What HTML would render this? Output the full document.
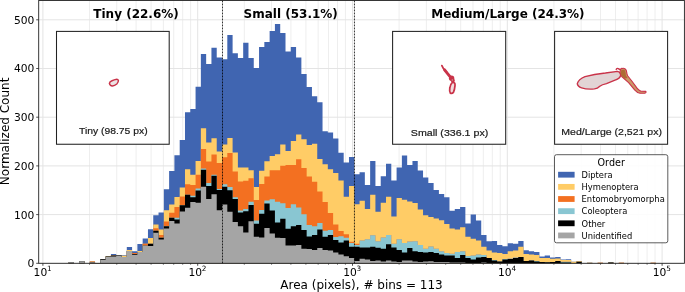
<!DOCTYPE html>
<html><head><meta charset="utf-8"><title>Area histogram</title>
<style>html,body{margin:0;padding:0;background:#fff}body{width:685px;height:292px;overflow:hidden}</style>
</head><body>
<svg width="685" height="292" viewBox="0 0 685 292" style="display:block;will-change:transform">
<rect x="0" y="0" width="685" height="292" fill="#fff"/>
<path d="M89.50,0.5V263.3M116.76,0.5V263.3M136.10,0.5V263.3M151.10,0.5V263.3M163.36,0.5V263.3M173.72,0.5V263.3M182.70,0.5V263.3M190.62,0.5V263.3M244.30,0.5V263.3M271.56,0.5V263.3M290.90,0.5V263.3M305.90,0.5V263.3M318.16,0.5V263.3M328.52,0.5V263.3M337.50,0.5V263.3M345.42,0.5V263.3M399.10,0.5V263.3M426.36,0.5V263.3M445.70,0.5V263.3M460.70,0.5V263.3M472.96,0.5V263.3M483.32,0.5V263.3M492.30,0.5V263.3M500.22,0.5V263.3M553.90,0.5V263.3M581.16,0.5V263.3M600.50,0.5V263.3M615.50,0.5V263.3M627.76,0.5V263.3M638.12,0.5V263.3M647.10,0.5V263.3M655.02,0.5V263.3" stroke="#eeeeee" stroke-width="1" fill="none"/>
<path d="M42.90,0.5V263.3M197.70,0.5V263.3M352.50,0.5V263.3M507.30,0.5V263.3M662.10,0.5V263.3M38.7,263.30H684.4M38.7,214.60H684.4M38.7,165.90H684.4M38.7,117.20H684.4M38.7,68.50H684.4M38.7,19.80H684.4" stroke="#e4e4e4" stroke-width="1" fill="none"/>
<path d="M58.03,263.3L58.03,263.30L63.32,263.30L63.32,263.30L68.61,263.30L68.61,262.30L73.90,262.30L73.90,263.30L79.19,263.30L79.19,261.20L84.48,261.20L84.48,263.30L89.77,263.30L89.77,261.50L95.06,261.50L95.06,262.90L100.35,262.90L100.35,259.00L105.64,259.00L105.64,255.90L110.93,255.90L110.93,254.10L116.22,254.10L116.22,255.00L121.51,255.00L121.51,255.20L126.80,255.20L126.80,247.10L132.09,247.10L132.09,251.20L137.38,251.20L137.38,244.10L142.67,244.10L142.67,238.60L147.96,238.60L147.96,229.30L153.25,229.30L153.25,215.20L158.54,215.20L158.54,212.50L163.83,212.50L163.83,189.30L169.12,189.30L169.12,171.10L174.41,171.10L174.41,155.20L179.70,155.20L179.70,140.10L184.99,140.10L184.99,112.20L190.28,112.20L190.28,109.10L195.57,109.10L195.57,86.80L200.86,86.80L200.86,53.90L206.15,53.90L206.15,64.10L211.44,64.10L211.44,47.80L216.73,47.80L216.73,57.40L222.02,57.40L222.02,59.30L227.31,59.30L227.31,34.90L232.60,34.90L232.60,53.20L237.89,53.20L237.89,58.00L243.18,58.00L243.18,42.70L248.47,42.70L248.47,58.00L253.76,58.00L253.76,68.00L259.05,68.00L259.05,46.90L264.34,46.90L264.34,41.90L269.63,41.90L269.63,30.90L274.92,30.90L274.92,24.00L280.21,24.00L280.21,33.10L285.50,33.10L285.50,51.60L290.79,51.60L290.79,47.10L296.08,47.10L296.08,57.50L301.37,57.50L301.37,74.00L306.66,74.00L306.66,87.00L311.95,87.00L311.95,96.30L317.24,96.30L317.24,102.20L322.53,102.20L322.53,131.30L327.82,131.30L327.82,132.40L333.11,132.40L333.11,138.40L338.40,138.40L338.40,152.80L343.69,152.80L343.69,162.50L348.98,162.50L348.98,157.00L354.27,157.00L354.27,174.20L359.56,174.20L359.56,172.30L364.85,172.30L364.85,185.10L370.14,185.10L370.14,161.00L375.43,161.00L375.43,186.10L380.72,186.10L380.72,176.30L386.01,176.30L386.01,163.80L391.30,163.80L391.30,180.50L396.59,180.50L396.59,167.50L401.88,167.50L401.88,155.50L407.17,155.50L407.17,165.00L412.46,165.00L412.46,161.00L417.75,161.00L417.75,170.50L423.04,170.50L423.04,177.50L428.33,177.50L428.33,183.00L433.62,183.00L433.62,190.00L438.91,190.00L438.91,193.90L444.20,193.90L444.20,197.30L449.49,197.30L449.49,210.80L454.78,210.80L454.78,208.90L460.07,208.90L460.07,207.10L465.36,207.10L465.36,223.40L470.65,223.40L470.65,214.60L475.94,214.60L475.94,220.60L481.23,220.60L481.23,234.90L486.52,234.90L486.52,241.20L491.81,241.20L491.81,240.90L497.10,240.90L497.10,244.90L502.39,244.90L502.39,246.20L507.68,246.20L507.68,243.30L512.97,243.30L512.97,243.70L518.26,243.70L518.26,240.90L523.55,240.90L523.55,250.30L528.84,250.30L528.84,251.20L534.13,251.20L534.13,252.10L539.42,252.10L539.42,256.60L544.71,256.60L544.71,255.40L550.00,255.40L550.00,257.40L555.29,257.40L555.29,257.10L560.58,257.10L560.58,259.60L565.87,259.60L565.87,259.30L571.16,259.30L571.16,261.70L576.45,261.70L576.45,260.90L581.74,260.90L581.74,263.30L587.03,263.30L587.03,262.65L592.32,262.65L592.32,263.30L597.61,263.30L597.61,262.80L602.90,262.80L602.90,263.30L608.19,263.30L608.19,262.60L613.48,262.60L613.48,263.30L618.77,263.30L618.77,262.80L624.06,262.80L624.06,263.30L629.35,263.30L629.35,263.30L634.64,263.30L634.64,263.30L639.93,263.30L639.93,263.30L645.22,263.30L645.22,263.30L650.51,263.30L650.51,262.75L655.80,262.75L655.80,263.30L661.09,263.30L661.09,263.3Z" fill="#4065B1"/>
<path d="M58.03,263.3L58.03,263.30L63.32,263.30L63.32,263.30L68.61,263.30L68.61,262.30L73.90,262.30L73.90,263.30L79.19,263.30L79.19,261.20L84.48,261.20L84.48,263.30L89.77,263.30L89.77,261.50L95.06,261.50L95.06,262.90L100.35,262.90L100.35,259.00L105.64,259.00L105.64,255.90L110.93,255.90L110.93,255.00L116.22,255.00L116.22,255.00L121.51,255.00L121.51,255.70L126.80,255.70L126.80,249.90L132.09,249.90L132.09,252.90L137.38,252.90L137.38,250.90L142.67,250.90L142.67,243.80L147.96,243.80L147.96,238.00L153.25,238.00L153.25,224.40L158.54,224.40L158.54,229.50L163.83,229.50L163.83,210.20L169.12,210.20L169.12,204.60L174.41,204.60L174.41,197.00L179.70,197.00L179.70,187.40L184.99,187.40L184.99,169.20L190.28,169.20L190.28,174.80L195.57,174.80L195.57,161.00L200.86,161.00L200.86,128.20L206.15,128.20L206.15,142.60L211.44,142.60L211.44,138.20L216.73,138.20L216.73,151.40L222.02,151.40L222.02,144.50L227.31,144.50L227.31,137.90L232.60,137.90L232.60,152.40L237.89,152.40L237.89,167.60L243.18,167.60L243.18,167.60L248.47,167.60L248.47,170.20L253.76,170.20L253.76,187.10L259.05,187.10L259.05,170.80L264.34,170.80L264.34,161.20L269.63,161.20L269.63,156.10L274.92,156.10L274.92,154.20L280.21,154.20L280.21,144.60L285.50,144.60L285.50,151.10L290.79,151.10L290.79,141.10L296.08,141.10L296.08,134.50L301.37,134.50L301.37,139.20L306.66,139.20L306.66,144.90L311.95,144.90L311.95,143.80L317.24,143.80L317.24,159.10L322.53,159.10L322.53,164.20L327.82,164.20L327.82,169.20L333.11,169.20L333.11,172.90L338.40,172.90L338.40,180.50L343.69,180.50L343.69,196.80L348.98,196.80L348.98,186.10L354.27,186.10L354.27,204.30L359.56,204.30L359.56,200.80L364.85,200.80L364.85,208.90L370.14,208.90L370.14,194.80L375.43,194.80L375.43,211.80L380.72,211.80L380.72,202.70L386.01,202.70L386.01,196.80L391.30,196.80L391.30,216.50L396.59,216.50L396.59,198.00L401.88,198.00L401.88,199.80L407.17,199.80L407.17,201.40L412.46,201.40L412.46,203.00L417.75,203.00L417.75,209.60L423.04,209.60L423.04,215.20L428.33,215.20L428.33,216.90L433.62,216.90L433.62,218.40L438.91,218.40L438.91,220.20L444.20,220.20L444.20,224.00L449.49,224.00L449.49,228.60L454.78,228.60L454.78,229.50L460.07,229.50L460.07,227.20L465.36,227.20L465.36,236.80L470.65,236.80L470.65,238.70L475.94,238.70L475.94,240.60L481.23,240.60L481.23,246.80L486.52,246.80L486.52,250.60L491.81,250.60L491.81,252.50L497.10,252.50L497.10,253.10L502.39,253.10L502.39,254.10L507.68,254.10L507.68,251.20L512.97,251.20L512.97,250.60L518.26,250.60L518.26,246.80L523.55,246.80L523.55,254.10L528.84,254.10L528.84,254.40L534.13,254.40L534.13,255.00L539.42,255.00L539.42,258.10L544.71,258.10L544.71,257.90L550.00,257.90L550.00,258.80L555.29,258.80L555.29,258.60L560.58,258.60L560.58,260.10L565.87,260.10L565.87,260.10L571.16,260.10L571.16,261.70L576.45,261.70L576.45,260.90L581.74,260.90L581.74,263.30L587.03,263.30L587.03,262.65L592.32,262.65L592.32,263.30L597.61,263.30L597.61,262.80L602.90,262.80L602.90,263.30L608.19,263.30L608.19,262.60L613.48,262.60L613.48,263.30L618.77,263.30L618.77,262.80L624.06,262.80L624.06,263.30L629.35,263.30L629.35,263.30L634.64,263.30L634.64,263.30L639.93,263.30L639.93,263.30L645.22,263.30L645.22,263.30L650.51,263.30L650.51,262.75L655.80,262.75L655.80,263.30L661.09,263.30L661.09,263.3Z" fill="#FFCC66"/>
<path d="M58.03,263.3L58.03,263.30L63.32,263.30L63.32,263.30L68.61,263.30L68.61,262.30L73.90,262.30L73.90,263.30L79.19,263.30L79.19,261.20L84.48,261.20L84.48,263.30L89.77,263.30L89.77,261.50L95.06,261.50L95.06,262.90L100.35,262.90L100.35,259.00L105.64,259.00L105.64,256.40L110.93,256.40L110.93,255.00L116.22,255.00L116.22,255.00L121.51,255.00L121.51,256.90L126.80,256.90L126.80,251.00L132.09,251.00L132.09,252.90L137.38,252.90L137.38,252.10L142.67,252.10L142.67,243.80L147.96,243.80L147.96,243.70L153.25,243.70L153.25,228.30L158.54,228.30L158.54,234.90L163.83,234.90L163.83,221.50L169.12,221.50L169.12,212.70L174.41,212.70L174.41,207.10L179.70,207.10L179.70,196.40L184.99,196.40L184.99,184.20L190.28,184.20L190.28,184.90L195.57,184.90L195.57,174.80L200.86,174.80L200.86,148.90L206.15,148.90L206.15,161.60L211.44,161.60L211.44,154.50L216.73,154.50L216.73,162.90L222.02,162.90L222.02,157.30L227.31,157.30L227.31,153.00L232.60,153.00L232.60,171.40L237.89,171.40L237.89,181.50L243.18,181.50L243.18,180.80L248.47,180.80L248.47,178.30L253.76,178.30L253.76,199.90L259.05,199.90L259.05,184.00L264.34,184.00L264.34,176.40L269.63,176.40L269.63,170.20L274.92,170.20L274.92,170.20L280.21,170.20L280.21,165.80L285.50,165.80L285.50,165.10L290.79,165.10L290.79,165.10L296.08,165.10L296.08,159.30L301.37,159.30L301.37,168.00L306.66,168.00L306.66,176.50L311.95,176.50L311.95,181.70L317.24,181.70L317.24,191.40L322.53,191.40L322.53,202.00L327.82,202.00L327.82,213.10L333.11,213.10L333.11,224.60L338.40,224.60L338.40,231.10L343.69,231.10L343.69,234.30L348.98,234.30L348.98,241.80L354.27,241.80L354.27,243.70L359.56,243.70L359.56,240.60L364.85,240.60L364.85,239.30L370.14,239.30L370.14,235.30L375.43,235.30L375.43,241.20L380.72,241.20L380.72,237.40L386.01,237.40L386.01,234.90L391.30,234.90L391.30,243.70L396.59,243.70L396.59,239.30L401.88,239.30L401.88,243.10L407.17,243.10L407.17,241.60L412.46,241.60L412.46,241.20L417.75,241.20L417.75,244.90L423.04,244.90L423.04,248.70L428.33,248.70L428.33,246.60L433.62,246.60L433.62,248.70L438.91,248.70L438.91,251.20L444.20,251.20L444.20,252.90L449.49,252.90L449.49,253.70L454.78,253.70L454.78,251.90L460.07,251.90L460.07,251.20L465.36,251.20L465.36,255.90L470.65,255.90L470.65,255.60L475.94,255.60L475.94,254.40L481.23,254.40L481.23,255.00L486.52,255.00L486.52,258.10L491.81,258.10L491.81,260.00L497.10,260.00L497.10,261.60L502.39,261.60L502.39,259.10L507.68,259.10L507.68,258.50L512.97,258.50L512.97,257.50L518.26,257.50L518.26,257.10L523.55,257.10L523.55,260.90L528.84,260.90L528.84,260.40L534.13,260.40L534.13,260.90L539.42,260.90L539.42,262.10L544.71,262.10L544.71,262.30L550.00,262.30L550.00,261.90L555.29,261.90L555.29,260.90L560.58,260.90L560.58,261.70L565.87,261.70L565.87,261.70L571.16,261.70L571.16,263.30L576.45,263.30L576.45,261.70L581.74,261.70L581.74,263.30L587.03,263.30L587.03,262.65L592.32,262.65L592.32,263.30L597.61,263.30L597.61,262.80L602.90,262.80L602.90,263.30L608.19,263.30L608.19,262.60L613.48,262.60L613.48,263.30L618.77,263.30L618.77,262.80L624.06,262.80L624.06,263.30L629.35,263.30L629.35,263.30L634.64,263.30L634.64,263.30L639.93,263.30L639.93,263.30L645.22,263.30L645.22,263.30L650.51,263.30L650.51,262.75L655.80,262.75L655.80,263.30L661.09,263.30L661.09,263.3Z" fill="#F37021"/>
<path d="M58.03,263.3L58.03,263.30L63.32,263.30L63.32,263.30L68.61,263.30L68.61,262.30L73.90,262.30L73.90,263.30L79.19,263.30L79.19,261.20L84.48,261.20L84.48,263.30L89.77,263.30L89.77,262.40L95.06,262.40L95.06,262.90L100.35,262.90L100.35,259.00L105.64,259.00L105.64,256.40L110.93,256.40L110.93,255.50L116.22,255.50L116.22,255.00L121.51,255.00L121.51,256.90L126.80,256.90L126.80,251.00L132.09,251.00L132.09,254.00L137.38,254.00L137.38,252.10L142.67,252.10L142.67,245.80L147.96,245.80L147.96,243.70L153.25,243.70L153.25,230.80L158.54,230.80L158.54,237.80L163.83,237.80L163.83,226.20L169.12,226.20L169.12,217.70L174.41,217.70L174.41,217.70L179.70,217.70L179.70,205.20L184.99,205.20L184.99,194.80L190.28,194.80L190.28,195.80L195.57,195.80L195.57,188.60L200.86,188.60L200.86,168.60L206.15,168.60L206.15,183.00L211.44,183.00L211.44,174.80L216.73,174.80L216.73,188.90L222.02,188.90L222.02,184.20L227.31,184.20L227.31,187.10L232.60,187.10L232.60,197.20L237.89,197.20L237.89,210.60L243.18,210.60L243.18,209.00L248.47,209.00L248.47,201.80L253.76,201.80L253.76,220.60L259.05,220.60L259.05,209.90L264.34,209.90L264.34,200.50L269.63,200.50L269.63,199.30L274.92,199.30L274.92,201.80L280.21,201.80L280.21,203.30L285.50,203.30L285.50,208.00L290.79,208.00L290.79,204.30L296.08,204.30L296.08,207.40L301.37,207.40L301.37,214.30L306.66,214.30L306.66,225.10L311.95,225.10L311.95,226.20L317.24,226.20L317.24,223.10L322.53,223.10L322.53,230.80L327.82,230.80L327.82,229.90L333.11,229.90L333.11,237.00L338.40,237.00L338.40,236.20L343.69,236.20L343.69,237.80L348.98,237.80L348.98,243.10L354.27,243.10L354.27,244.90L359.56,244.90L359.56,240.60L364.85,240.60L364.85,239.30L370.14,239.30L370.14,235.30L375.43,235.30L375.43,241.20L380.72,241.20L380.72,237.40L386.01,237.40L386.01,234.90L391.30,234.90L391.30,243.70L396.59,243.70L396.59,239.30L401.88,239.30L401.88,243.10L407.17,243.10L407.17,241.60L412.46,241.60L412.46,241.20L417.75,241.20L417.75,244.90L423.04,244.90L423.04,248.70L428.33,248.70L428.33,246.60L433.62,246.60L433.62,248.70L438.91,248.70L438.91,251.20L444.20,251.20L444.20,252.90L449.49,252.90L449.49,253.70L454.78,253.70L454.78,251.90L460.07,251.90L460.07,251.20L465.36,251.20L465.36,255.90L470.65,255.90L470.65,255.60L475.94,255.60L475.94,254.40L481.23,254.40L481.23,255.00L486.52,255.00L486.52,258.10L491.81,258.10L491.81,260.00L497.10,260.00L497.10,261.60L502.39,261.60L502.39,259.10L507.68,259.10L507.68,258.50L512.97,258.50L512.97,257.50L518.26,257.50L518.26,257.10L523.55,257.10L523.55,260.90L528.84,260.90L528.84,260.40L534.13,260.40L534.13,260.90L539.42,260.90L539.42,262.10L544.71,262.10L544.71,262.30L550.00,262.30L550.00,261.90L555.29,261.90L555.29,260.90L560.58,260.90L560.58,261.70L565.87,261.70L565.87,261.70L571.16,261.70L571.16,263.30L576.45,263.30L576.45,261.70L581.74,261.70L581.74,263.30L587.03,263.30L587.03,262.65L592.32,262.65L592.32,263.30L597.61,263.30L597.61,263.30L602.90,263.30L602.90,263.30L608.19,263.30L608.19,262.60L613.48,262.60L613.48,263.30L618.77,263.30L618.77,263.30L624.06,263.30L624.06,263.30L629.35,263.30L629.35,263.30L634.64,263.30L634.64,263.30L639.93,263.30L639.93,263.30L645.22,263.30L645.22,263.30L650.51,263.30L650.51,263.30L655.80,263.30L655.80,263.30L661.09,263.30L661.09,263.3Z" fill="#89C6D2"/>
<path d="M58.03,263.3L58.03,263.30L63.32,263.30L63.32,263.30L68.61,263.30L68.61,262.30L73.90,262.30L73.90,263.30L79.19,263.30L79.19,261.20L84.48,261.20L84.48,263.30L89.77,263.30L89.77,262.40L95.06,262.40L95.06,262.90L100.35,262.90L100.35,259.00L105.64,259.00L105.64,256.40L110.93,256.40L110.93,255.50L116.22,255.50L116.22,255.00L121.51,255.00L121.51,256.90L126.80,256.90L126.80,251.00L132.09,251.00L132.09,254.00L137.38,254.00L137.38,252.10L142.67,252.10L142.67,245.80L147.96,245.80L147.96,243.70L153.25,243.70L153.25,230.80L158.54,230.80L158.54,237.80L163.83,237.80L163.83,226.20L169.12,226.20L169.12,217.70L174.41,217.70L174.41,219.60L179.70,219.60L179.70,205.20L184.99,205.20L184.99,194.80L190.28,194.80L190.28,197.30L195.57,197.30L195.57,190.50L200.86,190.50L200.86,169.80L206.15,169.80L206.15,186.10L211.44,186.10L211.44,175.80L216.73,175.80L216.73,190.10L222.02,190.10L222.02,186.80L227.31,186.80L227.31,190.20L232.60,190.20L232.60,199.00L237.89,199.00L237.89,212.40L243.18,212.40L243.18,211.20L248.47,211.20L248.47,204.90L253.76,204.90L253.76,223.70L259.05,223.70L259.05,213.70L264.34,213.70L264.34,203.60L269.63,203.60L269.63,210.60L274.92,210.60L274.92,222.50L280.21,222.50L280.21,218.70L285.50,218.70L285.50,228.70L290.79,228.70L290.79,226.20L296.08,226.20L296.08,225.00L301.37,225.00L301.37,230.00L306.66,230.00L306.66,236.40L311.95,236.40L311.95,234.90L317.24,234.90L317.24,229.50L322.53,229.50L322.53,236.80L327.82,236.80L327.82,234.90L333.11,234.90L333.11,239.90L338.40,239.90L338.40,242.40L343.69,242.40L343.69,240.60L348.98,240.60L348.98,246.80L354.27,246.80L354.27,246.80L359.56,246.80L359.56,247.50L364.85,247.50L364.85,247.50L370.14,247.50L370.14,246.80L375.43,246.80L375.43,247.80L380.72,247.80L380.72,248.70L386.01,248.70L386.01,244.30L391.30,244.30L391.30,247.50L396.59,247.50L396.59,250.00L401.88,250.00L401.88,252.50L407.17,252.50L407.17,248.10L412.46,248.10L412.46,251.20L417.75,251.20L417.75,251.90L423.04,251.90L423.04,252.50L428.33,252.50L428.33,252.10L433.62,252.10L433.62,253.10L438.91,253.10L438.91,254.40L444.20,254.40L444.20,255.40L449.49,255.40L449.49,255.60L454.78,255.60L454.78,258.10L460.07,258.10L460.07,255.00L465.36,255.00L465.36,258.10L470.65,258.10L470.65,259.40L475.94,259.40L475.94,257.50L481.23,257.50L481.23,257.10L486.52,257.10L486.52,258.10L491.81,258.10L491.81,260.60L497.10,260.60L497.10,261.60L502.39,261.60L502.39,259.60L507.68,259.60L507.68,259.10L512.97,259.10L512.97,258.10L518.26,258.10L518.26,257.10L523.55,257.10L523.55,260.90L528.84,260.90L528.84,260.40L534.13,260.40L534.13,261.60L539.42,261.60L539.42,262.10L544.71,262.10L544.71,262.30L550.00,262.30L550.00,261.90L555.29,261.90L555.29,260.90L560.58,260.90L560.58,262.50L565.87,262.50L565.87,262.50L571.16,262.50L571.16,263.30L576.45,263.30L576.45,261.70L581.74,261.70L581.74,263.30L587.03,263.30L587.03,263.30L592.32,263.30L592.32,263.30L597.61,263.30L597.61,263.30L602.90,263.30L602.90,263.30L608.19,263.30L608.19,262.60L613.48,262.60L613.48,263.30L618.77,263.30L618.77,263.30L624.06,263.30L624.06,263.30L629.35,263.30L629.35,263.30L634.64,263.30L634.64,263.30L639.93,263.30L639.93,263.30L645.22,263.30L645.22,263.30L650.51,263.30L650.51,263.30L655.80,263.30L655.80,263.30L661.09,263.30L661.09,263.3Z" fill="#000000"/>
<path d="M58.03,263.3L58.03,263.30L63.32,263.30L63.32,263.30L68.61,263.30L68.61,262.30L73.90,262.30L73.90,263.30L79.19,263.30L79.19,261.20L84.48,261.20L84.48,263.30L89.77,263.30L89.77,262.40L95.06,262.40L95.06,262.90L100.35,262.90L100.35,259.80L105.64,259.80L105.64,257.10L110.93,257.10L110.93,256.60L116.22,256.60L116.22,255.60L121.51,255.60L121.51,256.90L126.80,256.90L126.80,251.00L132.09,251.00L132.09,254.70L137.38,254.70L137.38,252.10L142.67,252.10L142.67,245.80L147.96,245.80L147.96,246.00L153.25,246.00L153.25,232.80L158.54,232.80L158.54,239.60L163.83,239.60L163.83,228.50L169.12,228.50L169.12,220.90L174.41,220.90L174.41,223.40L179.70,223.40L179.70,211.50L184.99,211.50L184.99,207.70L190.28,207.70L190.28,202.00L195.57,202.00L195.57,202.70L200.86,202.70L200.86,186.80L206.15,186.80L206.15,198.90L211.44,198.90L211.44,194.30L216.73,194.30L216.73,210.20L222.02,210.20L222.02,204.60L227.31,204.60L227.31,211.80L232.60,211.80L232.60,221.90L237.89,221.90L237.89,226.20L243.18,226.20L243.18,232.50L248.47,232.50L248.47,221.20L253.76,221.20L253.76,236.80L259.05,236.80L259.05,237.40L264.34,237.40L264.34,228.10L269.63,228.10L269.63,233.60L274.92,233.60L274.92,237.80L280.21,237.80L280.21,238.00L285.50,238.00L285.50,245.60L290.79,245.60L290.79,245.60L296.08,245.60L296.08,244.90L301.37,244.90L301.37,248.70L306.66,248.70L306.66,249.00L311.95,249.00L311.95,250.00L317.24,250.00L317.24,248.10L322.53,248.10L322.53,250.00L327.82,250.00L327.82,250.60L333.11,250.60L333.11,252.50L338.40,252.50L338.40,254.40L343.69,254.40L343.69,256.20L348.98,256.20L348.98,258.10L354.27,258.10L354.27,260.90L359.56,260.90L359.56,258.80L364.85,258.80L364.85,259.40L370.14,259.40L370.14,260.90L375.43,260.90L375.43,260.60L380.72,260.60L380.72,261.60L386.01,261.60L386.01,260.40L391.30,260.40L391.30,261.60L396.59,261.60L396.59,261.90L401.88,261.90L401.88,260.40L407.17,260.40L407.17,260.60L412.46,260.60L412.46,261.60L417.75,261.60L417.75,262.10L423.04,262.10L423.04,261.60L428.33,261.60L428.33,261.30L433.62,261.30L433.62,262.10L438.91,262.10L438.91,262.10L444.20,262.10L444.20,261.90L449.49,261.90L449.49,262.50L454.78,262.50L454.78,262.50L460.07,262.50L460.07,262.50L465.36,262.50L465.36,262.90L470.65,262.90L470.65,262.90L475.94,262.90L475.94,262.90L481.23,262.90L481.23,262.50L486.52,262.50L486.52,262.90L491.81,262.90L491.81,263.00L497.10,263.00L497.10,263.00L502.39,263.00L502.39,262.90L507.68,262.90L507.68,262.90L512.97,262.90L512.97,262.90L518.26,262.90L518.26,262.90L523.55,262.90L523.55,263.00L528.84,263.00L528.84,263.00L534.13,263.00L534.13,263.00L539.42,263.00L539.42,263.00L544.71,263.00L544.71,263.00L550.00,263.00L550.00,263.00L555.29,263.00L555.29,263.00L560.58,263.00L560.58,263.30L565.87,263.30L565.87,263.30L571.16,263.30L571.16,263.30L576.45,263.30L576.45,263.30L581.74,263.30L581.74,263.30L587.03,263.30L587.03,263.30L592.32,263.30L592.32,263.30L597.61,263.30L597.61,263.30L602.90,263.30L602.90,263.30L608.19,263.30L608.19,263.30L613.48,263.30L613.48,263.30L618.77,263.30L618.77,263.30L624.06,263.30L624.06,263.30L629.35,263.30L629.35,263.30L634.64,263.30L634.64,263.30L639.93,263.30L639.93,263.30L645.22,263.30L645.22,263.30L650.51,263.30L650.51,263.30L655.80,263.30L655.80,263.30L661.09,263.30L661.09,263.3Z" fill="#A5A5A5"/>
<path d="M222.50,0.5V263.3" stroke="#000" stroke-width="0.8" stroke-dasharray="1.9,1.1" fill="none"/>
<path d="M354.45,0.5V263.3" stroke="#000" stroke-width="0.8" stroke-dasharray="1.9,1.1" fill="none"/>
<rect x="38.7" y="0.5" width="645.70" height="262.80" fill="none" stroke="#222" stroke-width="0.9"/>
<path d="M42.90,263.3v2.5M197.70,263.3v2.5M352.50,263.3v2.5M507.30,263.3v2.5M662.10,263.3v2.5" stroke="#222" stroke-width="0.8" fill="none"/>
<path d="M89.50,263.3v1.5M116.76,263.3v1.5M136.10,263.3v1.5M151.10,263.3v1.5M163.36,263.3v1.5M173.72,263.3v1.5M182.70,263.3v1.5M190.62,263.3v1.5M244.30,263.3v1.5M271.56,263.3v1.5M290.90,263.3v1.5M305.90,263.3v1.5M318.16,263.3v1.5M328.52,263.3v1.5M337.50,263.3v1.5M345.42,263.3v1.5M399.10,263.3v1.5M426.36,263.3v1.5M445.70,263.3v1.5M460.70,263.3v1.5M472.96,263.3v1.5M483.32,263.3v1.5M492.30,263.3v1.5M500.22,263.3v1.5M553.90,263.3v1.5M581.16,263.3v1.5M600.50,263.3v1.5M615.50,263.3v1.5M627.76,263.3v1.5M638.12,263.3v1.5M647.10,263.3v1.5M655.02,263.3v1.5" stroke="#222" stroke-width="0.6" fill="none"/>
<path d="M38.7,263.30h-2.5M38.7,214.60h-2.5M38.7,165.90h-2.5M38.7,117.20h-2.5M38.7,68.50h-2.5M38.7,19.80h-2.5" stroke="#222" stroke-width="0.8" fill="none"/>
<text x="34.3" y="267.25" text-anchor="end" style="font-family:'DejaVu Sans','Liberation Sans',sans-serif;font-size:10.7px" fill="#000">0</text>
<text x="34.3" y="218.55" text-anchor="end" style="font-family:'DejaVu Sans','Liberation Sans',sans-serif;font-size:10.7px" fill="#000">100</text>
<text x="34.3" y="169.85" text-anchor="end" style="font-family:'DejaVu Sans','Liberation Sans',sans-serif;font-size:10.7px" fill="#000">200</text>
<text x="34.3" y="121.15" text-anchor="end" style="font-family:'DejaVu Sans','Liberation Sans',sans-serif;font-size:10.7px" fill="#000">300</text>
<text x="34.3" y="72.45" text-anchor="end" style="font-family:'DejaVu Sans','Liberation Sans',sans-serif;font-size:10.7px" fill="#000">400</text>
<text x="34.3" y="23.75" text-anchor="end" style="font-family:'DejaVu Sans','Liberation Sans',sans-serif;font-size:10.7px" fill="#000">500</text>
<text x="33.60" y="275.7" style="font-family:'DejaVu Sans','Liberation Sans',sans-serif;font-size:10.7px" fill="#000">10<tspan dx="-0.2" dy="-4.5" style="font-size:7.3px">1</tspan></text>
<text x="188.40" y="275.7" style="font-family:'DejaVu Sans','Liberation Sans',sans-serif;font-size:10.7px" fill="#000">10<tspan dx="-0.2" dy="-4.5" style="font-size:7.3px">2</tspan></text>
<text x="343.20" y="275.7" style="font-family:'DejaVu Sans','Liberation Sans',sans-serif;font-size:10.7px" fill="#000">10<tspan dx="-0.2" dy="-4.5" style="font-size:7.3px">3</tspan></text>
<text x="498.00" y="275.7" style="font-family:'DejaVu Sans','Liberation Sans',sans-serif;font-size:10.7px" fill="#000">10<tspan dx="-0.2" dy="-4.5" style="font-size:7.3px">4</tspan></text>
<text x="652.80" y="275.7" style="font-family:'DejaVu Sans','Liberation Sans',sans-serif;font-size:10.7px" fill="#000">10<tspan dx="-0.2" dy="-4.5" style="font-size:7.3px">5</tspan></text>
<text x="361.5" y="288.9" text-anchor="middle" style="font-family:'DejaVu Sans','Liberation Sans',sans-serif;font-size:12px" fill="#000">Area (pixels), # bins = 113</text>
<text transform="translate(9.3,131.4) rotate(-90)" text-anchor="middle" style="font-family:'DejaVu Sans','Liberation Sans',sans-serif;font-size:12px" fill="#000">Normalized Count</text>
<text x="136.05" y="17.5" text-anchor="middle" style="font-family:'DejaVu Sans','Liberation Sans',sans-serif;font-size:12px;font-weight:bold" fill="#000">Tiny (22.6%)</text>
<text x="290.7" y="17.5" text-anchor="middle" style="font-family:'DejaVu Sans','Liberation Sans',sans-serif;font-size:12px;font-weight:bold" fill="#000">Small (53.1%)</text>
<text x="507.9" y="17.5" text-anchor="middle" style="font-family:'DejaVu Sans','Liberation Sans',sans-serif;font-size:12px;font-weight:bold" fill="#000">Medium/Large (24.3%)</text>
<rect x="56.5" y="31.4" width="112.70" height="112.85" fill="#fff" stroke="#222" stroke-width="1.05"/>
<text x="79.00" y="134.0" textLength="68.6" lengthAdjust="spacingAndGlyphs" style="font-family:'Liberation Sans','DejaVu Sans',sans-serif;font-size:9.7px" fill="#1a1a1a" stroke="#1a1a1a" stroke-width="0.2">Tiny (98.75 px)</text>
<rect x="392.6" y="31.4" width="113.10" height="112.85" fill="#fff" stroke="#222" stroke-width="1.05"/>
<text x="410.80" y="135.8" textLength="77.5" lengthAdjust="spacingAndGlyphs" style="font-family:'Liberation Sans','DejaVu Sans',sans-serif;font-size:9.7px" fill="#1a1a1a" stroke="#1a1a1a" stroke-width="0.2">Small (336.1 px)</text>
<rect x="554.6" y="31.4" width="113.00" height="112.85" fill="#fff" stroke="#222" stroke-width="1.05"/>
<text x="561.30" y="135.0" textLength="100.6" lengthAdjust="spacingAndGlyphs" style="font-family:'Liberation Sans','DejaVu Sans',sans-serif;font-size:9.7px" fill="#1a1a1a" stroke="#1a1a1a" stroke-width="0.2">Med/Large (2,521 px)</text>
<path d="M109.4,83.3 Q109.7,81.5 112,80.7 Q114.4,79.9 116,79.4 Q118,79.1 118.4,80.4 Q118.5,82.4 116.8,84 Q114.6,85.7 112.4,85.9 Q109.9,85.8 109.4,83.3 Z" fill="#ece3e4" stroke="#c93349" stroke-width="1.5" stroke-linejoin="round"/>
<path d="M441.9,65.6 L443.4,68.6 L445.4,71" stroke="#c93349" stroke-width="1.8" fill="none" stroke-linecap="round"/>
<path d="M444.6,69.8 L447.2,73.2 L449.8,76.4" stroke="#c93349" stroke-width="2.9" fill="none" stroke-linecap="round"/>
<circle cx="451.6" cy="78.2" r="2.7" fill="#c93349"/>
<circle cx="452.8" cy="80.4" r="2.0" fill="#c93349"/>
<circle cx="452.3" cy="80.1" r="0.75" fill="#c4a79c"/>
<path d="M452.4,82.3 Q455.4,82 455,85.6 Q454.6,90 453.4,92.4 Q452,94 450.4,93.2 Q449.2,91.6 449.8,88 Q450.2,84.2 452.4,82.3 Z" fill="#f1dcde" stroke="#c93349" stroke-width="1.75" stroke-linejoin="round"/>
<path d="M577.3,83.6 Q578.6,79.2 585,76.6 Q594,74.2 605.4,73 L617.6,71.4 Q620.8,72.2 620.6,75.4 Q620.2,78.6 614.4,80.4 L606.5,83.6 Q602,84.6 599.8,86.2 Q597.6,88.4 594.4,88.9 Q587,89.6 581.6,87.8 Q577.5,86.4 577.3,83.6 Z" fill="#e2d4d5" stroke="#c93349" stroke-width="1.4" stroke-linejoin="round"/>
<path d="M620.4,69.8 Q619.6,72 620.4,74 Q621.4,76.6 623.4,78 L628.6,82.6 L634.6,89.8 Q637,92.6 640,93.2 L644.8,93.2 Q646.6,92.6 645.8,91.4 L641,91.3 Q638.6,90.4 637.2,88.4 L631.8,81 L627.8,76 Q626.8,74.2 626.7,72.4 Q626.6,70.2 625.2,69 Q623.6,67.8 622.4,68.4 Q621.2,67.8 620.4,69.8 Z" fill="#cc9a68" stroke="#c93349" stroke-width="1.1" stroke-linejoin="round"/>
<path d="M621.2,70.2 Q623.4,68.8 625,70.4 Q626,72.6 625.8,75 L627.6,78 L625.2,78.4 Q622,77 621,74.4 Q620.6,72 621.2,70.2 Z" fill="#ad6c34"/>
<path d="M616.2,69.6 Q616.6,68 618.2,68.6 Q619.4,69.4 620.6,69.6" fill="none" stroke="#c93349" stroke-width="1.3" stroke-linecap="round"/>
<rect x="554.5" y="154.7" width="113.30" height="88.10" rx="2" ry="2" fill="#fff" fill-opacity="0.88" stroke="#333" stroke-width="0.8"/>
<text x="611.2" y="165.7" text-anchor="middle" style="font-family:'DejaVu Sans','Liberation Sans',sans-serif;font-size:9.6px" fill="#000">Order</text>
<rect x="558.1" y="171.80" width="16.5" height="5.8" fill="#4065B1"/>
<text x="581.6" y="178.00" style="font-family:'DejaVu Sans','Liberation Sans',sans-serif;font-size:8.33px" fill="#000">Diptera</text>
<rect x="558.1" y="183.95" width="16.5" height="5.8" fill="#FFCC66"/>
<text x="581.6" y="190.15" style="font-family:'DejaVu Sans','Liberation Sans',sans-serif;font-size:8.33px" fill="#000">Hymenoptera</text>
<rect x="558.1" y="196.10" width="16.5" height="5.8" fill="#F37021"/>
<text x="581.6" y="202.30" style="font-family:'DejaVu Sans','Liberation Sans',sans-serif;font-size:8.33px" fill="#000">Entomobryomorpha</text>
<rect x="558.1" y="208.25" width="16.5" height="5.8" fill="#89C6D2"/>
<text x="581.6" y="214.45" style="font-family:'DejaVu Sans','Liberation Sans',sans-serif;font-size:8.33px" fill="#000">Coleoptera</text>
<rect x="558.1" y="220.40" width="16.5" height="5.8" fill="#000000"/>
<text x="581.6" y="226.60" style="font-family:'DejaVu Sans','Liberation Sans',sans-serif;font-size:8.33px" fill="#000">Other</text>
<rect x="558.1" y="232.55" width="16.5" height="5.8" fill="#A5A5A5"/>
<text x="581.6" y="238.75" style="font-family:'DejaVu Sans','Liberation Sans',sans-serif;font-size:8.33px" fill="#000">Unidentified</text>
</svg>
</body></html>
